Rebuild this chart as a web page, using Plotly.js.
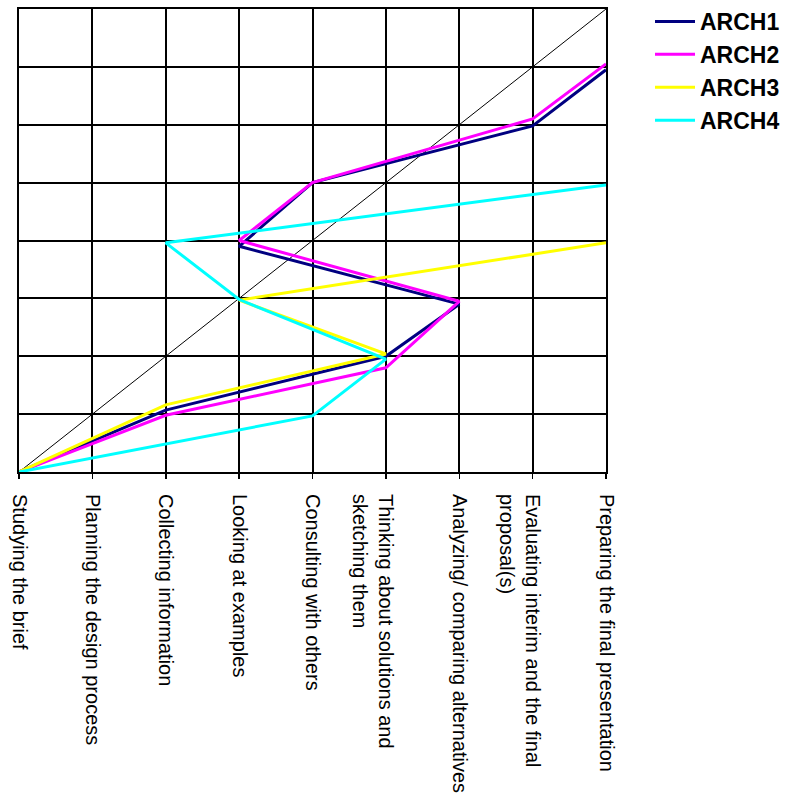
<!DOCTYPE html>
<html>
<head>
<meta charset="utf-8">
<script src="https://cdn.plot.ly/plotly-3.0.1.min.js"></script>
<style>body{margin:0;padding:0;background:#fff;}#chart{width:812px;height:809px;}</style>
</head>
<body>
<div id="chart"></div>
<script>
const categories = [
  "Studying the brief",
  "Planning the design process",
  "Collecting information",
  "Looking at examples",
  "Consulting with others",
  " <br>Thinking about solutions and<br>sketching them",
  "Analyzing/ comparing alternatives",
  " <br>Evaluating interim and the final<br>proposal(s)",
  "Preparing the final presentation"
];
const categoryIndex = [0, 1, 2, 3, 4, 5, 6, 7, 8];
const seriesNames = ["ARCH1", "ARCH2", "ARCH3", "ARCH4"];
const arch1X = [0, 2, 5, 6, 3, 4, 7, 8];
const arch1Y = [0, 1.07, 2.0, 2.9, 3.9, 5.0, 5.98, 6.95];
const arch2X = [0, 2, 5, 6, 3, 4, 7, 8];
const arch2Y = [0, 0.98, 1.8, 2.95, 4.0, 5.0, 6.1, 7.05];
const arch3X = [0, 2, 5, 3, 8];
const arch3Y = [0, 1.16, 2.04, 2.97, 3.96];
const arch4X = [0, 4, 5, 3, 2, 8];
const arch4Y = [0, 0.97, 1.95, 2.98, 3.96, 4.96];
const diagX = [0, 8];
const diagY = [0, 8];
const colors = ["#000080", "#FF00FF", "#FFFF00", "#00FFFF"];

const xs = [arch1X, arch2X, arch3X, arch4X];
const ys = [arch1Y, arch2Y, arch3Y, arch4Y];

const traces = [{
  x: diagX, y: diagY, mode: "lines", type: "scatter",
  line: {color: "#000000", width: 1}, showlegend: false, hoverinfo: "skip"
}];
for (let i = 0; i < seriesNames.length; i++) {
  traces.push({
    x: xs[i], y: ys[i], mode: "lines", type: "scatter", name: seriesNames[i],
    line: {color: colors[i], width: 3}
  });
}

const layout = {
  width: 812, height: 809,
  margin: {l: 19, r: 206, t: 9, b: 337, autoexpand: false},
  paper_bgcolor: "#ffffff", plot_bgcolor: "#ffffff",
  font: {family: "Liberation Sans, Arial, sans-serif", color: "#000000"},
  showlegend: true,
  legend: {
    xref: "container", yref: "container",
    x: 0.8005, xanchor: "left", y: 1.0, yanchor: "top",
    itemwidth: 40,
    font: {family: "Liberation Sans, Arial, sans-serif", size: 23, color: "#000000", weight: "bold"},
    bgcolor: "rgba(0,0,0,0)", tracegroupgap: 0
  },
  xaxis: {
    range: [0, 8], tickmode: "array", tickvals: categoryIndex, ticktext: categories,
    tickangle: 90, tickfont: {size: 20, family: "Liberation Sans, Arial, sans-serif"},
    ticklabelstandoff: 11,
    showgrid: true, gridcolor: "#000000", gridwidth: 2,
    showline: true, linecolor: "#000000", linewidth: 2, mirror: true,
    ticks: "outside", ticklen: 5, tickcolor: "#000000", tickwidth: 1.5, zeroline: false, fixedrange: true
  },
  yaxis: {
    range: [0, 8], dtick: 1, tick0: 0, showticklabels: false,
    showgrid: true, gridcolor: "#000000", gridwidth: 2,
    showline: true, linecolor: "#000000", linewidth: 2, mirror: true,
    ticks: "", zeroline: false, fixedrange: true
  }
};

Plotly.newPlot("chart", traces, layout, {displayModeBar: false, staticPlot: true});
</script>
</body>
</html>
